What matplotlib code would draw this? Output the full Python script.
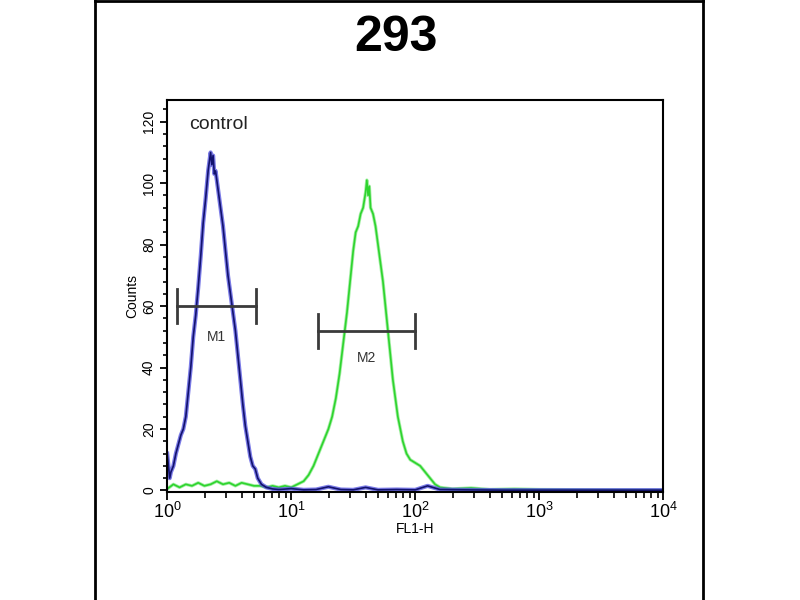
import numpy as np
import matplotlib
matplotlib.use("Agg")
import matplotlib.pyplot as plt
from matplotlib.lines import Line2D
from matplotlib.ticker import FixedLocator, MultipleLocator, LogFormatterMathtext

plt.rcParams['font.family'] = ['Liberation Sans', 'DejaVu Sans']
plt.rcParams['mathtext.fontset'] = 'custom'
plt.rcParams['mathtext.rm'] = 'Liberation Sans'
plt.rcParams['mathtext.it'] = 'Liberation Sans'

# histogram data, x in decades (log10 of FL1-H), y in counts
blue_lx = [0.00, 0.01, 0.02, 0.03, 0.05, 0.07, 0.09, 0.11, 0.13, 0.15, 0.17, 0.19,
           0.21, 0.23, 0.25, 0.27, 0.29, 0.31, 0.33, 0.35, 0.36, 0.37, 0.38, 0.39,
           0.41, 0.43, 0.45, 0.47, 0.49, 0.51, 0.53, 0.55, 0.57, 0.59, 0.61, 0.63,
           0.65, 0.67, 0.69, 0.71, 0.73, 0.76, 0.80, 0.85, 0.90, 1.00, 1.10, 1.20,
           1.30, 1.40, 1.50, 1.60, 1.70, 1.85, 2.00, 2.10, 2.20, 2.40, 2.70, 3.00,
           3.50, 4.00]
blue_cnt = [12, 8, 4, 6, 8, 12, 15, 18, 20, 24, 32, 40,
            50, 57, 66, 76, 87, 95, 104, 110, 106, 109, 103, 104,
            98, 92, 86, 78, 70, 64, 58, 52, 44, 36, 28, 21,
            16, 11, 8, 7, 4, 2, 1, 0.5, 0.3, 0.6, 0.2, 0.3,
            1.2, 0.3, 0.2, 1.0, 0.2, 0.3, 0.2, 1.5, 0.3, 0.2, 0.1, 0.1,
            0.1, 0.1]

green_lx = [0.00, 0.05, 0.10, 0.15, 0.20, 0.25, 0.30, 0.35, 0.40, 0.45, 0.50, 0.55,
            0.60, 0.65, 0.70, 0.75, 0.80, 0.85, 0.90, 0.95, 1.00, 1.05, 1.10, 1.14,
            1.18, 1.22, 1.26, 1.30, 1.33, 1.36, 1.39, 1.42, 1.45, 1.48, 1.50, 1.52,
            1.54, 1.56, 1.58, 1.60, 1.61, 1.62, 1.63, 1.64, 1.66, 1.68, 1.70, 1.72,
            1.74, 1.76, 1.78, 1.80, 1.82, 1.84, 1.86, 1.88, 1.90, 1.93, 1.96, 2.00,
            2.04, 2.08, 2.12, 2.16, 2.20, 2.30, 2.45, 2.60, 2.80, 3.00, 3.50, 4.00]
green_cnt = [0.5, 2, 1, 2, 1.5, 2.5, 1.5, 2, 3, 2, 2.5, 1.5,
             2.5, 2, 1.5, 1.5, 1, 1.5, 1, 1.5, 1, 2, 3, 5,
             8, 12, 16, 20, 24, 30, 38, 48, 58, 70, 78, 84,
             86, 90, 92, 97, 101, 96, 99, 92, 90, 86, 80, 74,
             68, 60, 52, 44, 36, 30, 24, 20, 16, 12, 10, 9,
             8, 6, 4, 2, 1, 0.5, 0.8, 0.3, 0.5, 0.3, 0.2, 0.1]

# gate markers: name, left/right (decades), bar height, label height
gate_names = ['M1', 'M2']
gate_lo = [0.08, 1.22]
gate_hi = [0.72, 2.00]
gate_y = [60, 52]
gate_label_y = [50, 43]

fig = plt.figure(figsize=(8, 6), dpi=100)
ax = fig.add_axes([0.209, 0.18, 0.620, 0.653])

bx = 10 ** np.array(blue_lx)
gx = 10 ** np.array(green_lx)
ax.plot(gx, green_cnt, color='#7ee87e', lw=2.4, alpha=0.7)
ax.plot(gx, green_cnt, color='#2ed42e', lw=1.2)
ax.plot(bx, blue_cnt, color='#5a5ae0', lw=3.0, alpha=0.8)
ax.plot(bx, blue_cnt, color='#12126e', lw=1.2)

for name, lo, hi, y, ly in zip(gate_names, gate_lo, gate_hi, gate_y, gate_label_y):
    x0, x1 = 10 ** lo, 10 ** hi
    ax.plot([x0, x1], [y, y], color='#3a3a3a', lw=2)
    ax.plot([x0, x0], [y - 5.5, y + 5.5], color='#3a3a3a', lw=2)
    ax.plot([x1, x1], [y - 5.5, y + 5.5], color='#3a3a3a', lw=2)
    ax.text(10 ** ((lo + hi) / 2), ly, name, ha='center', va='center',
            fontsize=10, color='#333333')

ax.text(1.5, 119, 'control', fontsize=14, ha='left', va='center', color='#222222')

ax.set_xscale('log')
ax.set_xlim(1, 1e4)
ax.set_ylim(-0.5, 127)
ax.xaxis.set_major_formatter(LogFormatterMathtext())
ax.yaxis.set_major_locator(FixedLocator([0, 20, 40, 60, 80, 100, 120]))
ax.yaxis.set_minor_locator(MultipleLocator(4))
for lab in ax.get_yticklabels():
    lab.set_rotation(90)
    lab.set_va('center')
ax.tick_params(axis='y', which='major', length=5, width=1.3, labelsize=10, pad=3)
ax.tick_params(axis='y', which='minor', length=3, width=1.2)
ax.tick_params(axis='x', which='major', length=6, width=1.3, labelsize=13, pad=1)
ax.tick_params(axis='x', which='minor', length=4, width=1.2)
for s in ax.spines.values():
    s.set_linewidth(1.5)

ax.set_ylabel('Counts', fontsize=10, labelpad=2)
ax.set_xlabel('FL1-H', fontsize=10, labelpad=0)

fig.text(0.495, 0.937, '293', fontsize=36, fontweight='bold', ha='center', va='center')

# outer panel frame
fig.add_artist(Line2D([0.119, 0.119], [0, 1], color='black', lw=2))
fig.add_artist(Line2D([0.879, 0.879], [0, 1], color='black', lw=2))
fig.add_artist(Line2D([0.119, 0.879], [0.998, 0.998], color='black', lw=2))

fig.savefig('out.png', dpi=100)
